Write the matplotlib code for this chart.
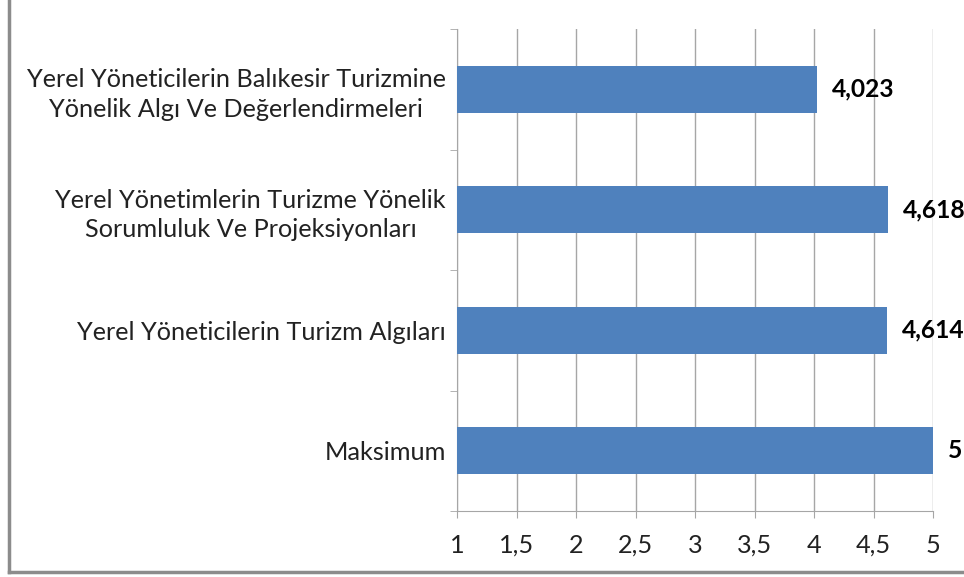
import matplotlib.pyplot as plt
import numpy as np
from matplotlib.lines import Line2D

categories = [
    "Maksimum",
    "Yerel Yöneticilerin Turizm Algıları",
    "Yerel Yönetimlerin Turizme Yönelik\nSorumluluk Ve Projeksiyonları",
    "Yerel Yöneticilerin Balıkesir Turizmine\nYönelik Algı Ve Değerlendirmeleri",
]
values = [5, 4.614, 4.618, 4.023]
value_labels = ["5", "4,614", "4,618", "4,023"]
x_ticks = [1, 1.5, 2, 2.5, 3, 3.5, 4, 4.5, 5]
x_tick_labels = ["1", "1,5", "2", "2,5", "3", "3,5", "4", "4,5", "5"]

plt.rcParams["font.family"] = ["Lato", "DejaVu Sans"]

grid_color = "#a6a6a6"
bar_color = "#4f81bd"
fs = 18.2

fig = plt.figure(figsize=(9.64, 5.77), dpi=100)
ax = fig.add_axes([457 / 964, 66 / 577, 476 / 964, 482 / 577])

y = np.arange(len(categories))
ax.barh(y, values, height=0.39, color=bar_color, zorder=3)

for yi, v, lab in zip(y, values, value_labels):
    ax.annotate(lab, (v, yi), xytext=(11, 0), textcoords="offset points",
                ha="left", va="center", fontsize=fs - 0.5, fontweight="bold",
                color="black", annotation_clip=False)

ax.set_xlim(1, 5)
ax.set_ylim(-0.5, len(categories) - 0.5)
ax.set_xticks(x_ticks)
ax.set_xticklabels(x_tick_labels, fontsize=fs)
ax.set_yticks(y)
ax.set_yticklabels(categories, fontsize=fs, multialignment="center", linespacing=1.33)
ax.set_yticks(np.arange(-0.5, len(categories)), minor=True)

ax.grid(axis="x", color=grid_color, linewidth=1, zorder=0)
ax.tick_params(axis="x", length=5, color=grid_color, pad=11.5, labelcolor="#222222")
ax.tick_params(axis="y", which="major", length=0, pad=8, labelcolor="#222222")
ax.tick_params(axis="y", which="minor", length=5, color=grid_color)

for side in ["top", "right"]:
    ax.spines[side].set_visible(False)
for side in ["left", "bottom"]:
    ax.spines[side].set_color(grid_color)

# outer chart border (only left and bottom edges are inside the crop)
border_x = 9 / 964
border_y = 5 / 577
fig.add_artist(Line2D([border_x, border_x], [border_y, 1], transform=fig.transFigure,
                      color="#8c8c8c", linewidth=2.5))
fig.add_artist(Line2D([border_x, 1], [border_y, border_y], transform=fig.transFigure,
                      color="#8c8c8c", linewidth=2.5))

fig.savefig("out.png", dpi=100)
